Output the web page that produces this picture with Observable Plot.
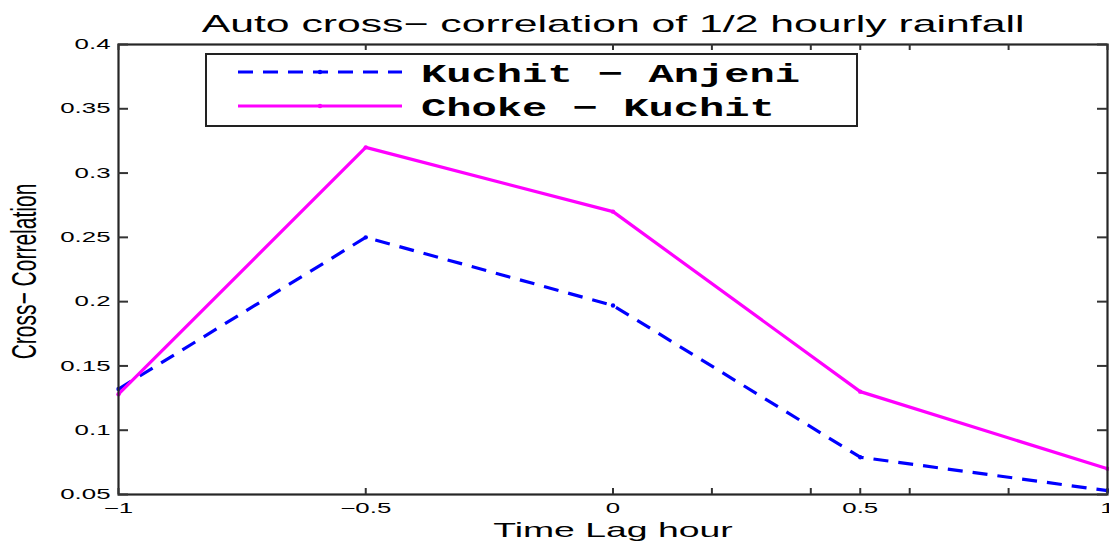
<!DOCTYPE html>
<html><head><meta charset="utf-8">
<script src="https://cdn.jsdelivr.net/npm/d3@7"></script>
<script src="https://cdn.jsdelivr.net/npm/@observablehq/plot@0.6"></script>
<style>
body{margin:0;background:#fff;}
#chart{position:relative;width:1109px;height:541px;overflow:hidden;}
.lg-box{position:absolute;box-sizing:border-box;border:2px solid #222;background:#fff;}
.lg-text{position:absolute;font-family:"Liberation Mono","Courier New",monospace;font-weight:bold;font-size:26px;line-height:26px;white-space:nowrap;transform-origin:0 50%;color:#000;}
.lg-line{position:absolute;overflow:visible;}
</style></head><body><div id="chart"></div>
<script>
// ---- data ----
const lags = [-1, -0.5, 0, 0.5, 1];
const kuchitAnjeni = [0.132, 0.25, 0.197, 0.079, 0.053];
const chokeKuchit = [0.128, 0.32, 0.27, 0.13, 0.07];
const seriesNames = ["Kuchit − Anjeni", "Choke − Kuchit"];
const seriesColors = ["#0000ff", "#ff00ff"];
const seriesDash = ["15,10", null];
const xTickLabels = [-1, -0.5, 0, 0.5, 1];
const xTickMarks = [-1, -0.5, 0, 0.2, 0.4, 0.5, 0.6, 0.8, 1];
const yTicks = [0.05, 0.1, 0.15, 0.2, 0.25, 0.3, 0.35, 0.4];
const titleText = "Auto cross− correlation of 1/2 hourly rainfall";
const xLabel = "Time Lag hour";
const yLabel = "Cross− Correlation";

// ---- layout ----
const W = 1109, H = 541, mL = 118, mR = 2, mT = 44, mB = 47;
const innerW = W - mL - mR, innerH = H - mT - mB;
const K = 1.78; // horizontal stretch of the reference text

const seriesValues = [kuchitAnjeni, chokeKuchit];
const rows = [];
seriesNames.forEach((name, i) => lags.forEach((lag, j) => rows.push({series: name, lag, value: seriesValues[i][j]})));

const fmt = d => (d < 0 ? "−" : "") + String(Math.abs(+d.toFixed(2)));

const marks = [];
seriesNames.forEach((name, i) => {
  const data = rows.filter(r => r.series === name);
  marks.push(Plot.line(data, {x: "lag", y: "value", stroke: seriesColors[i], strokeWidth: 3.2,
    strokeDasharray: seriesDash[i] || undefined, strokeLinejoin: "round", strokeLinecap: "butt"}));
  marks.push(Plot.dot(data, {x: "lag", y: "value", r: 2.2, fill: seriesColors[i], stroke: "none"}));
});
marks.push(
  Plot.frame({stroke: "#262626", strokeWidth: 2.2}),
  Plot.tickX(xTickMarks, {x: d => d, insetTop: innerH - 6, stroke: "#333", strokeWidth: 2}),
  Plot.tickX(xTickMarks, {x: d => d, insetBottom: innerH - 6, stroke: "#333", strokeWidth: 2}),
  Plot.tickY(yTicks, {y: d => d, insetRight: innerW - 10, stroke: "#333", strokeWidth: 2}),
  Plot.tickY(yTicks, {y: d => d, insetLeft: innerW - 10, stroke: "#333", strokeWidth: 2}),
  Plot.axisX({ticks: xTickLabels, tickSize: 0, tickPadding: 8, fontSize: 14.5, tickFormat: fmt, label: null}),
  Plot.axisY({ticks: yTicks, tickSize: 0, tickPadding: 8, fontSize: 14.5, tickFormat: fmt, label: null}),
  Plot.text([titleText], {text: d => d, frameAnchor: "top", lineAnchor: "bottom", dy: -13, fontSize: 24, fill: "#000"}),
  Plot.text([xLabel], {text: d => d, frameAnchor: "bottom", lineAnchor: "bottom", dy: 42, fontSize: 21, fill: "#000"}),
  Plot.text([yLabel], {text: d => d, frameAnchor: "left", textAnchor: "middle", rotate: -90, lineAnchor: "middle", dx: -94, dy: 2, fontSize: 21, fill: "#000"})
);

const svg = Plot.plot({
  width: W, height: H,
  marginLeft: mL, marginRight: mR, marginTop: mT, marginBottom: mB,
  x: {domain: [-1, 1]},
  y: {domain: [0.05, 0.4]},
  style: {fontFamily: "'Liberation Sans', Arial, sans-serif", background: "#fff", color: "#000"},
  marks
});
const chart = document.getElementById("chart");
chart.appendChild(svg);

// stretch text horizontally like the reference
svg.querySelectorAll("text").forEach(t => {
  const L = t.getComputedTextLength();
  if (t.textContent === yLabel) {
    t.setAttribute("font-size", 21 * 1.65);
    t.style.fontSize = (21 * 1.65) + "px";
    t.setAttribute("textLength", L);
  } else {
    t.setAttribute("textLength", L * K);
  }
  t.setAttribute("lengthAdjust", "spacingAndGlyphs");
});

// ---- legend ----
const box = document.createElement("div");
box.className = "lg-box";
Object.assign(box.style, {left: "205px", top: "53px", width: "653px", height: "74px"});
chart.appendChild(box);
const rowY = [72, 106];
seriesNames.forEach((name, i) => {
  const ls = d3.create("svg").attr("class", "lg-line").attr("width", 164).attr("height", 10)
    .style("left", "238px").style("top", (rowY[i] - 5) + "px");
  ls.append("line").attr("x1", 0).attr("x2", 164).attr("y1", 5).attr("y2", 5)
    .attr("stroke", seriesColors[i]).attr("stroke-width", 3.2)
    .attr("stroke-dasharray", seriesDash[i]);
  ls.append("circle").attr("cx", 82).attr("cy", 5).attr("r", 2.2).attr("fill", seriesColors[i]);
  chart.appendChild(ls.node());
  const tx = document.createElement("div");
  tx.className = "lg-text";
  tx.textContent = name;
  tx.style.left = "421px";
  tx.style.top = (rowY[i] - 10) + "px";
  tx.style.transform = "scaleX(1.62)";
  chart.appendChild(tx);
});
</script></body></html>
